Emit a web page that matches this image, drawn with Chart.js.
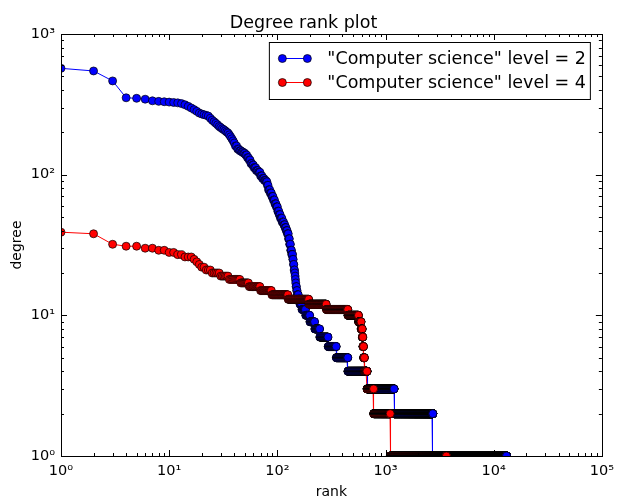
<!DOCTYPE html>
<html>
<head>
<meta charset="utf-8">
<title>Degree rank plot</title>
<script src="https://cdn.jsdelivr.net/npm/chart.js@4.4.0/dist/chart.umd.min.js"></script>
<style>
  html, body { margin: 0; padding: 0; background: #fff; }
  #wrap { width: 621px; height: 501px; }
</style>
</head>
<body>
<div id="wrap"><canvas id="rank-chart" width="621" height="501"></canvas></div>
<script>
// Each step: the degree and the last rank that still has this degree
// (ranks are consecutive, starting at 1)
const level2Degree = [570, 546, 464, 352, 349, 344, 335, 332, 330, 328, 326, 324, 320, 314, 306, 298,
  290, 282, 274, 270, 267, 264, 261, 252, 244, 238, 232, 226, 220, 216, 212, 209, 205, 201, 198,
  192, 186, 180, 174, 168, 160, 152, 148, 145, 142, 138, 132, 127, 120, 117, 112, 107, 104, 98, 94,
  91, 89, 84, 78, 74, 70, 66, 62, 59, 55, 52, 49, 46, 44, 42, 40, 38, 35, 32, 29, 27, 25, 23, 21,
  20, 19, 18, 17, 16, 15, 14, 13, 12, 11, 10, 9, 8, 7, 6, 5, 4, 3, 2, 1];
const level2LastRank = [1, 2, 3, 4, 5, 6, 7, 8, 9, 10, 11, 12, 13, 14, 15, 16,
  17, 18, 19, 20, 21, 22, 23, 24, 25, 26, 27, 28, 29, 30, 31, 32, 33, 34, 35,
  36, 37, 38, 39, 40, 42, 44, 46, 48, 50, 52, 54, 56, 58, 60, 63, 66, 69, 72, 75,
  78, 80, 82, 85, 88, 91, 94, 97, 100, 103, 106, 110, 114, 117, 120, 123, 126, 129, 132, 135, 138, 140, 142, 144,
  145, 146, 147, 148, 150, 152, 156, 161, 168, 182, 199, 221, 246, 294, 350, 448, 676, 1200, 2737, 13150];

const level4Degree = [39, 38, 32, 31, 30, 29, 28, 27, 26, 25, 24, 23, 22, 21, 20, 19, 18, 17, 16, 15,
  14, 13, 12, 11, 10, 9, 8, 7, 6, 5, 4, 3, 2, 1];
const level4LastRank = [1, 2, 3, 5, 7, 9, 11, 13, 16, 17, 18, 19, 21, 24, 29, 35, 45, 54, 69, 88,
  125, 195, 283, 448, 562, 594, 609, 617, 626, 638, 674, 776, 1105, 3655];

const seriesLabels = ['"Computer science" level = 2', '"Computer science" level = 4'];
const seriesColors = ['#0000ff', '#ff0000'];
const rankTicks = [1, 10, 100, 1000, 10000, 100000];
const degreeTicks = [1, 10, 100, 1000];

const supDigits = { '0': '\u2070', '1': '\u00b9', '2': '\u00b2', '3': '\u00b3', '4': '\u2074', '5': '\u2075' };

function powerLabel(value) {
  const exp = String(Math.round(Math.log10(value)));
  return '10' + exp.split('').map((d) => supDigits[d]).join('');
}

// turn the steps into one point per rank
function expandSteps(degrees, lastRanks) {
  const points = [];
  let rank = 1;
  degrees.forEach((degree, i) => {
    for (; rank <= lastRanks[i]; rank++) {
      points.push({ x: rank, y: degree });
    }
  });
  return points;
}

// inward major/minor ticks on all four sides, plus the frame
const frameTicks = {
  id: 'frameTicks',
  afterDatasetsDraw(chart) {
    const { ctx, chartArea: a, scales } = chart;
    ctx.save();
    ctx.strokeStyle = '#000';
    ctx.lineWidth = 1;
    ctx.beginPath();
    const minorOf = (decades) => {
      const out = [];
      decades.forEach((d, i) => {
        for (let k = 1; k <= 9; k++) {
          if (i === decades.length - 1 && k > 1) break;
          out.push({ value: k * d, major: k === 1 });
        }
      });
      return out;
    };
    minorOf(rankTicks).forEach((t) => {
      const px = Math.round(scales.x.getPixelForValue(t.value)) + 0.5;
      const len = t.major ? 6 : 3;
      ctx.moveTo(px, a.bottom); ctx.lineTo(px, a.bottom - len);
      ctx.moveTo(px, a.top); ctx.lineTo(px, a.top + len);
    });
    minorOf(degreeTicks).forEach((t) => {
      const py = Math.round(scales.y.getPixelForValue(t.value)) + 0.5;
      const len = t.major ? 6 : 3;
      ctx.moveTo(a.left, py); ctx.lineTo(a.left + len, py);
      ctx.moveTo(a.right, py); ctx.lineTo(a.right - len, py);
    });
    ctx.stroke();
    ctx.strokeRect(Math.round(a.left) + 0.5, Math.round(a.top) + 0.5,
      Math.round(a.right - a.left), Math.round(a.bottom - a.top));
    ctx.restore();
  }
};

// matplotlib style legend: framed box, line with a marker at each end
const boxLegend = {
  id: 'boxLegend',
  afterDraw(chart) {
    const { ctx, chartArea: a } = chart;
    const right = a.right - 11.5;
    const top = a.top + 8.5;
    const width = 321;
    const height = 57;
    const left = right - width;
    ctx.save();
    ctx.fillStyle = '#fff';
    ctx.fillRect(left, top, width, height);
    ctx.strokeStyle = '#000';
    ctx.lineWidth = 1;
    ctx.strokeRect(left, top, width, height);
    chart.data.datasets.forEach((ds, i) => {
      const y = top + 16 + i * 24;
      ctx.strokeStyle = ds.borderColor;
      ctx.lineWidth = 1;
      ctx.beginPath();
      ctx.moveTo(left + 13, y);
      ctx.lineTo(left + 38, y);
      ctx.stroke();
      [left + 13, left + 38].forEach((x) => {
        ctx.beginPath();
        ctx.arc(x, y, ds.pointRadius, 0, Math.PI * 2);
        ctx.fillStyle = ds.pointBackgroundColor;
        ctx.fill();
        ctx.strokeStyle = '#000';
        ctx.lineWidth = ds.pointBorderWidth;
        ctx.stroke();
      });
      ctx.fillStyle = '#000';
      ctx.font = '17.5px "DejaVu Sans"';
      ctx.textAlign = 'left';
      ctx.textBaseline = 'middle';
      ctx.fillText(ds.label, left + 58, y + 1);
    });
    ctx.restore();
  }
};

Chart.defaults.font.family = '"DejaVu Sans", sans-serif';
Chart.defaults.color = '#000';

const makeDataset = (label, color, points, order) => ({
  label: label,
  data: points,
  order: order,
  borderColor: color,
  borderWidth: 1,
  backgroundColor: color,
  pointBackgroundColor: color,
  pointBorderColor: '#000',
  pointBorderWidth: 0.7,
  pointRadius: 4,
  pointHoverRadius: 4,
  tension: 0,
  fill: false
});

const rankChart = new Chart(document.getElementById('rank-chart'), {
  type: 'line',
  data: {
    datasets: [
      makeDataset(seriesLabels[0], seriesColors[0], expandSteps(level2Degree, level2LastRank), 1),
      makeDataset(seriesLabels[1], seriesColors[1], expandSteps(level4Degree, level4LastRank), 0)
    ]
  },
  options: {
    responsive: false,
    animation: false,
    events: [],
    layout: { padding: { left: 0, right: 14, top: 0, bottom: 0 } },
    plugins: {
      legend: { display: false },
      tooltip: { enabled: false },
      title: {
        display: true,
        text: 'Degree rank plot',
        color: '#000',
        font: { size: 17.5, weight: 'normal' },
        padding: { top: 13, bottom: 0 }
      }
    },
    scales: {
      x: {
        type: 'logarithmic',
        min: rankTicks[0],
        max: rankTicks[rankTicks.length - 1],
        afterBuildTicks: (scale) => { scale.ticks = rankTicks.map((v) => ({ value: v })); },
        afterFit: (scale) => { scale.height = 45; },
        grid: { display: false, drawTicks: false },
        border: { display: false },
        ticks: {
          autoSkip: false,
          maxRotation: 0,
          padding: 7,
          font: { size: 14.5 },
          callback: (value) => powerLabel(value)
        },
        title: { display: true, text: 'rank', font: { size: 14 }, padding: { top: 0, bottom: 0 } }
      },
      y: {
        type: 'logarithmic',
        min: degreeTicks[0],
        max: degreeTicks[degreeTicks.length - 1],
        afterBuildTicks: (scale) => { scale.ticks = degreeTicks.map((v) => ({ value: v })); },
        afterFit: (scale) => { scale.width = 61; },
        grid: { display: false, drawTicks: false },
        border: { display: false },
        ticks: {
          autoSkip: false,
          padding: 6,
          font: { size: 14.5 },
          callback: (value) => powerLabel(value)
        },
        title: { display: true, text: 'degree', font: { size: 14 }, padding: { top: 9, bottom: 0 } }
      }
    }
  },
  plugins: [frameTicks, boxLegend]
});
</script>
</body>
</html>
